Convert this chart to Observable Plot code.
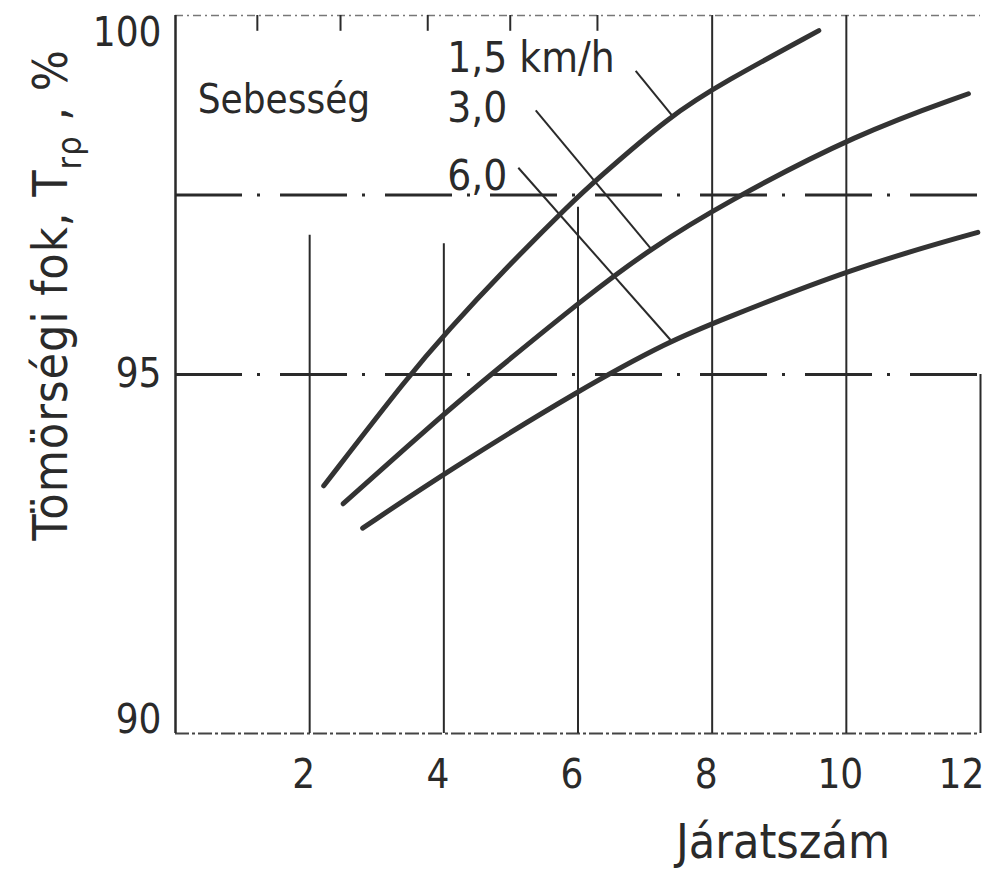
<!DOCTYPE html>
<html><head><meta charset="utf-8">
<script src="https://cdn.jsdelivr.net/npm/d3@7"></script>
<script src="https://cdn.jsdelivr.net/npm/@observablehq/plot@0.6"></script>
<style>body{margin:0;background:#fff} svg{display:block}</style>
</head><body><div id="chart"></div>
<script>
// ---- data ----
const speedLabels = ["1,5 km/h", "3,0", "6,0"];
const x15 = [2.21, 3.50, 4.06, 4.85, 5.93, 6.26, 7.38, 8.17, 9.59];
const y15 = [93.45, 95.01, 95.61, 96.41, 97.42, 97.70, 98.61, 99.07, 99.79];
const x30 = [2.50, 4.06, 4.65, 6.14, 7.08, 8.17, 10.17, 11.82];
const y30 = [93.20, 94.50, 94.96, 96.10, 96.75, 97.38, 98.36, 98.91];
const x60 = [2.79, 4.03, 6.08, 7.38, 8.08, 10.11, 11.96];
const y60 = [92.86, 93.64, 94.82, 95.47, 95.74, 96.49, 96.98];
// leader lines (from label to curve)
const leaderX1 = [6.86, 5.37, 5.11];
const leaderY1 = [99.23, 98.68, 97.88];
const leaderX2 = [7.41, 7.08, 7.38];
const leaderY2 = [98.60, 96.76, 95.48];
// label anchor positions
const labelX = [4.05, 4.05, 4.05];
const labelY = [99.40, 98.70, 97.76];
const legendTitle = "Sebesség";
const legendTitleX = 0.33, legendTitleY = 98.82;
// reference (dash-dot) levels
const refLevels = [97.5, 95];
// vertical grid lines and their top ends
const gridX = [2, 4, 6, 8, 10, 12];
const gridTop = [96.94, 96.82, 97.33, 100, 100, 95];
const topTicks = [1.22, 2.46, 3.76, 4.99, 6.29];
const xTicks = [2, 4, 6, 8, 10];
const xTickLast = [12];
const yTickTop = [100], yTickMid = [95], yTickBottom = [90];
const xTitle = "Járatszám";

const FONT = "'Liberation Sans Narrow', 'DejaVu Sans Condensed', sans-serif";
const INK = "#2a2a2a";

const curves = [
  ...x15.map((x, i) => ({s: speedLabels[0], x, y: y15[i]})),
  ...x30.map((x, i) => ({s: speedLabels[1], x, y: y30[i]})),
  ...x60.map((x, i) => ({s: speedLabels[2], x, y: y60[i]}))
];
const leaders = speedLabels.map((s, i) => ({s, x1: leaderX1[i], y1: leaderY1[i], x2: leaderX2[i], y2: leaderY2[i]}));
const labels = speedLabels.map((s, i) => ({s, x: labelX[i], y: labelY[i]}));
const grid = gridX.map((x, i) => ({x, top: gridTop[i]}));
const yAxisOpts = {tickSize: 0, tickPadding: 14, fontSize: 40, label: null, tickFormat: d3.format("d")};

const svg = Plot.plot({
  width: 986, height: 874,
  marginLeft: 175, marginRight: 6, marginTop: 15, marginBottom: 141,
  style: {fontFamily: FONT, color: INK, background: "#fff"},
  x: {type: "linear", domain: [0, 12]},
  y: {type: "linear", domain: [90, 100]},
  marks: [
    // frame pieces
    Plot.ruleY([100], {x1: 0, x2: 12, stroke: "#777", strokeWidth: 1.5, strokeDasharray: "8,4,2,4"}),
    Plot.ruleY([90], {x1: 0, x2: 12, stroke: "#444", strokeWidth: 2, strokeDasharray: "14,3,3,3"}),
    Plot.ruleX([0], {y1: 90, y2: 100, stroke: INK, strokeWidth: 2.5}),
    Plot.ruleX(topTicks, {x: d => d, y1: 100, y2: 99.78, stroke: INK, strokeWidth: 2}),
    // vertical grid
    Plot.ruleX(grid, {x: "x", y1: 90, y2: "top", stroke: INK, strokeWidth: 2}),
    // dash-dot reference lines
    Plot.ruleY(refLevels, {x1: 0, x2: 12.08, stroke: INK, strokeWidth: 3, strokeDasharray: "67,15,3,20", clip: false}),
    // leader lines
    Plot.link(leaders, {x1: "x1", y1: "y1", x2: "x2", y2: "y2", stroke: INK, strokeWidth: 2}),
    // curves
    Plot.line(curves, {x: "x", y: "y", z: "s", curve: "basis", stroke: "#333", strokeWidth: 5, strokeLinecap: "round"}),
    // labels
    Plot.text(labels, {x: "x", y: "y", text: "s", textAnchor: "start", lineAnchor: "middle", fontSize: 42, fill: INK}),
    Plot.text([legendTitle], {x: legendTitleX, y: legendTitleY, text: d => d, textAnchor: "start", lineAnchor: "middle", fontSize: 40, fill: INK}),
    // axes
    Plot.axisX(xTicks, {tickSize: 0, tickPadding: 26, fontSize: 40, dx: -6, label: null}),
    Plot.axisX(xTickLast, {tickSize: 0, tickPadding: 26, fontSize: 40, dx: -19, label: null}),
    Plot.axisY(yTickTop, {...yAxisOpts, dy: 18}),
    Plot.axisY(yTickMid, {...yAxisOpts}),
    Plot.axisY(yTickBottom, {...yAxisOpts, dy: -13})
  ]
});

const s = d3.select(svg);
// y axis title with subscript
const yt = s.append("text")
  .attr("transform", "translate(67,295) rotate(-90)")
  .attr("text-anchor", "middle")
  .attr("letter-spacing", 1)
  .attr("font-family", FONT).attr("font-size", 48).attr("fill", INK);
yt.append("tspan").text("Tömörségi fok, T");
yt.append("tspan").attr("font-size", 34).attr("dy", 14).text("rρ");
yt.append("tspan").attr("dy", -14).text(" , %");
// x axis title
s.append("text")
  .attr("x", 783).attr("y", 858)
  .attr("text-anchor", "middle")
  .attr("font-family", FONT).attr("font-size", 48).attr("fill", INK)
  .text(xTitle);

document.getElementById("chart").appendChild(svg);
</script>
</body></html>
